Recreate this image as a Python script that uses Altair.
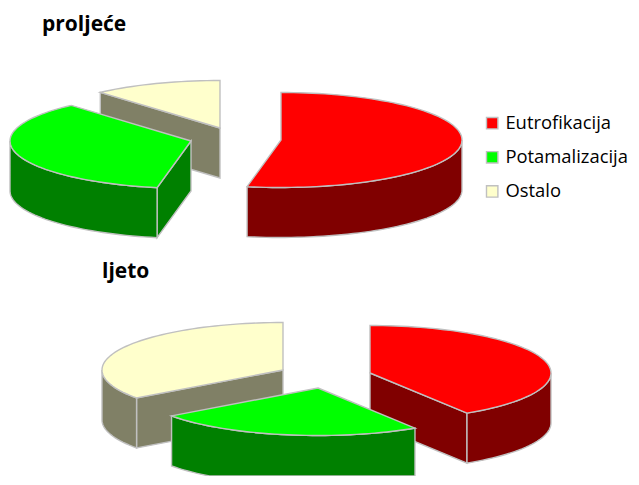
import math
import altair as alt

categories = ["Eutrofikacija", "Potamalizacija", "Ostalo"]
spring_values = [53.0, 35.5, 11.5]
summer_values = [41.0, 24.0, 35.0]

top_colors = ["#ff0000", "#00ff00", "#ffffcc"]
side_colors = ["#800000", "#008000", "#808066"]

RX, RY, DEPTH = 181, 47.5, 50
PAGE_W, P1_Y, P1_H, P2_Y, P2_H = 623, 35, 226, 283, 194
X_ORIGIN = 8

# exploded slice centres in page pixels (layout only)
spring_centres = [(281, 140), (191, 141), (220, 128)]
summer_centres = [(370, 374), (318, 389), (283, 371)]
spring_order = [2, 0, 1]
summer_order = [2, 0, 1]


def pt(c, a, dz=0):
    r = math.radians(a)
    return [c[0] + RX * math.sin(r), c[1] - RY * math.cos(r) + dz]


def arc(c, a0, a1, dz=0):
    n = max(2, int(abs(a1 - a0) / 2))
    return [pt(c, a0 + (a1 - a0) * i / n, dz) for i in range(n + 1)]


def feat(part, ring, oy):
    ring = [[x - X_ORIGIN, y - oy] for x, y in ring]
    ring.append(ring[0])
    return {"type": "Feature", "properties": {"part": part},
            "geometry": {"type": "Polygon", "coordinates": [ring]}}


def build(values, centres, order, oy):
    total = sum(values)
    starts, acc = [], 0
    for v in values:
        starts.append(acc)
        acc += v
    out = []
    for i in order:
        a0 = starts[i] / total * 360
        a1 = (starts[i] + values[i]) / total * 360
        c = centres[i]
        shade = categories[i] + " side"
        apex = [c[0], c[1]]
        low = [c[0], c[1] + DEPTH]
        if math.sin(math.radians(a0)) < -1e-6:
            out.append(feat(shade, [apex, pt(c, a0), pt(c, a0, DEPTH), low], oy))
        if math.sin(math.radians(a1)) > 1e-6:
            out.append(feat(shade, [apex, pt(c, a1), pt(c, a1, DEPTH), low], oy))
        w0, w1 = max(a0, 90), min(a1, 270)
        if w1 > w0:
            out.append(feat(shade, arc(c, w0, w1) + arc(c, w1, w0, DEPTH), oy))
        out.append(feat(categories[i], [apex] + arc(c, a0, a1), oy))
    return out


domain = categories + [k + " side" for k in categories]
colors = top_colors + side_colors


def panel(title, dx, values, centres, order, oy, h, legend):
    data = alt.InlineData(
        values={"type": "FeatureCollection", "features": build(values, centres, order, oy)},
        format=alt.DataFormat(property="features", type="json"),
    )
    return (
        alt.Chart(data, title=alt.TitleParams(title, anchor="start", frame="group", dx=dx, offset=0,
                                              font="Open Sans", fontSize=21, fontWeight="bold", color="#000000"))
        .mark_geoshape(stroke="#c0c0c0", strokeWidth=1.4)
        .encode(color=alt.Color("properties.part:N", scale=alt.Scale(domain=domain, range=colors), legend=legend))
        .project(type="identity", scale=1, translate=[0, 0], clipExtent=[[0, 0], [PAGE_W, h]])
        .properties(width=PAGE_W, height=h)
    )


legend = alt.Legend(title=None, values=categories, orient="none", legendX=475, legendY=79,
                    symbolType="square", symbolSize=130, symbolStrokeColor="#c0c0c0", symbolStrokeWidth=1.4,
                    labelFont="Open Sans", labelFontSize=18.4, labelColor="#000000", rowPadding=15.1, labelOffset=4)

p1 = panel("proljeće", 34, spring_values, spring_centres, spring_order, P1_Y, P1_H, legend)
p2 = panel("ljeto", 94, summer_values, summer_centres, summer_order, P2_Y, P2_H, None)

chart = (
    alt.vconcat(p1, p2, spacing=0, padding={"top": 6, "left": 0, "right": 0, "bottom": 0})
    .resolve_scale(color="independent")
    .configure_view(stroke=None)
)
chart.save("out.html", embed_options={"renderer": "svg", "actions": False})
